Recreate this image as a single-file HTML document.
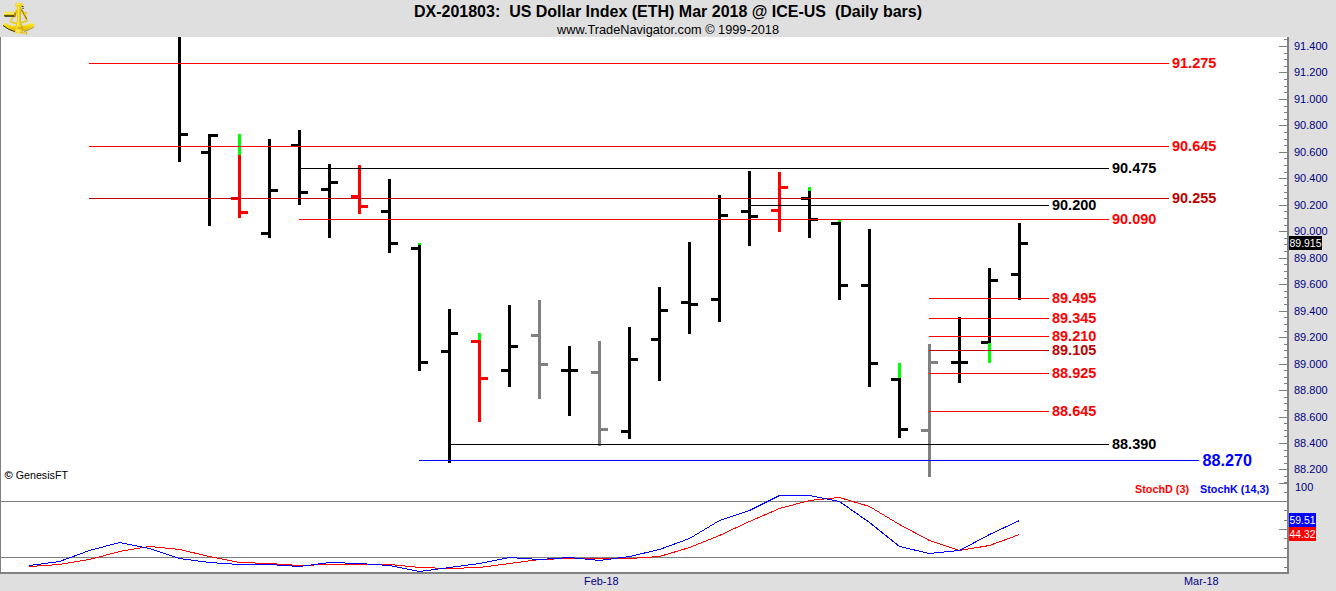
<!DOCTYPE html>
<html><head><meta charset="utf-8"><style>
html,body{margin:0;padding:0;background:#dfdfdf;}
body{width:1336px;height:591px;overflow:hidden;position:relative;}
svg{position:absolute;left:0;top:0;}
text{font-family:"Liberation Sans",Arial,sans-serif;}
</style></head><body>
<svg width="1336" height="591" viewBox="0 0 1336 591">
<g shape-rendering="crispEdges">
<rect x="0" y="0" width="1336" height="591" fill="#dfdfdf"/>
<rect x="1" y="37" width="1286" height="535" fill="#ffffff"/>
<rect x="0" y="37" width="1" height="537" fill="#808080"/>
<rect x="0" y="572" width="1289" height="2" fill="#808080"/>
<rect x="1287" y="37" width="2" height="537" fill="#808080"/>
<rect x="1" y="501" width="1286" height="1" fill="#808080"/>
<rect x="1" y="557" width="1286" height="1" fill="#808080"/>
<rect x="1284" y="39" width="3" height="1" fill="#808080"/>
<rect x="1279" y="46" width="8" height="1" fill="#808080"/>
<rect x="1284" y="53" width="3" height="1" fill="#808080"/>
<rect x="1284" y="59" width="3" height="1" fill="#808080"/>
<rect x="1284" y="66" width="3" height="1" fill="#808080"/>
<rect x="1279" y="72" width="8" height="1" fill="#808080"/>
<rect x="1284" y="79" width="3" height="1" fill="#808080"/>
<rect x="1284" y="86" width="3" height="1" fill="#808080"/>
<rect x="1284" y="92" width="3" height="1" fill="#808080"/>
<rect x="1279" y="99" width="8" height="1" fill="#808080"/>
<rect x="1284" y="106" width="3" height="1" fill="#808080"/>
<rect x="1284" y="112" width="3" height="1" fill="#808080"/>
<rect x="1284" y="119" width="3" height="1" fill="#808080"/>
<rect x="1279" y="125" width="8" height="1" fill="#808080"/>
<rect x="1284" y="132" width="3" height="1" fill="#808080"/>
<rect x="1284" y="139" width="3" height="1" fill="#808080"/>
<rect x="1284" y="145" width="3" height="1" fill="#808080"/>
<rect x="1279" y="152" width="8" height="1" fill="#808080"/>
<rect x="1284" y="158" width="3" height="1" fill="#808080"/>
<rect x="1284" y="165" width="3" height="1" fill="#808080"/>
<rect x="1284" y="172" width="3" height="1" fill="#808080"/>
<rect x="1279" y="178" width="8" height="1" fill="#808080"/>
<rect x="1284" y="185" width="3" height="1" fill="#808080"/>
<rect x="1284" y="192" width="3" height="1" fill="#808080"/>
<rect x="1284" y="198" width="3" height="1" fill="#808080"/>
<rect x="1279" y="205" width="8" height="1" fill="#808080"/>
<rect x="1284" y="211" width="3" height="1" fill="#808080"/>
<rect x="1284" y="218" width="3" height="1" fill="#808080"/>
<rect x="1284" y="225" width="3" height="1" fill="#808080"/>
<rect x="1279" y="231" width="8" height="1" fill="#808080"/>
<rect x="1284" y="238" width="3" height="1" fill="#808080"/>
<rect x="1284" y="244" width="3" height="1" fill="#808080"/>
<rect x="1284" y="251" width="3" height="1" fill="#808080"/>
<rect x="1279" y="258" width="8" height="1" fill="#808080"/>
<rect x="1284" y="264" width="3" height="1" fill="#808080"/>
<rect x="1284" y="271" width="3" height="1" fill="#808080"/>
<rect x="1284" y="278" width="3" height="1" fill="#808080"/>
<rect x="1279" y="284" width="8" height="1" fill="#808080"/>
<rect x="1284" y="291" width="3" height="1" fill="#808080"/>
<rect x="1284" y="297" width="3" height="1" fill="#808080"/>
<rect x="1284" y="304" width="3" height="1" fill="#808080"/>
<rect x="1279" y="311" width="8" height="1" fill="#808080"/>
<rect x="1284" y="317" width="3" height="1" fill="#808080"/>
<rect x="1284" y="324" width="3" height="1" fill="#808080"/>
<rect x="1284" y="331" width="3" height="1" fill="#808080"/>
<rect x="1279" y="337" width="8" height="1" fill="#808080"/>
<rect x="1284" y="344" width="3" height="1" fill="#808080"/>
<rect x="1284" y="350" width="3" height="1" fill="#808080"/>
<rect x="1284" y="357" width="3" height="1" fill="#808080"/>
<rect x="1279" y="364" width="8" height="1" fill="#808080"/>
<rect x="1284" y="370" width="3" height="1" fill="#808080"/>
<rect x="1284" y="377" width="3" height="1" fill="#808080"/>
<rect x="1284" y="383" width="3" height="1" fill="#808080"/>
<rect x="1279" y="390" width="8" height="1" fill="#808080"/>
<rect x="1284" y="397" width="3" height="1" fill="#808080"/>
<rect x="1284" y="403" width="3" height="1" fill="#808080"/>
<rect x="1284" y="410" width="3" height="1" fill="#808080"/>
<rect x="1279" y="417" width="8" height="1" fill="#808080"/>
<rect x="1284" y="423" width="3" height="1" fill="#808080"/>
<rect x="1284" y="430" width="3" height="1" fill="#808080"/>
<rect x="1284" y="436" width="3" height="1" fill="#808080"/>
<rect x="1279" y="443" width="8" height="1" fill="#808080"/>
<rect x="1284" y="450" width="3" height="1" fill="#808080"/>
<rect x="1284" y="456" width="3" height="1" fill="#808080"/>
<rect x="1284" y="463" width="3" height="1" fill="#808080"/>
<rect x="1279" y="469" width="8" height="1" fill="#808080"/>
<rect x="1284" y="476" width="3" height="1" fill="#808080"/>
<rect x="1284" y="482" width="3" height="1" fill="#808080"/>
<rect x="1279" y="483" width="8" height="1" fill="#808080"/>
<rect x="1284" y="492" width="3" height="1" fill="#808080"/>
<rect x="1284" y="510" width="3" height="1" fill="#808080"/>
<rect x="1284" y="520" width="3" height="1" fill="#808080"/>
<rect x="1279" y="529" width="8" height="1" fill="#808080"/>
<rect x="1284" y="538" width="3" height="1" fill="#808080"/>
<rect x="1284" y="548" width="3" height="1" fill="#808080"/>
<rect x="1284" y="567" width="3" height="1" fill="#808080"/>
<rect x="178" y="37" width="3" height="125" fill="#000000"/>
<rect x="181" y="133" width="7" height="3" fill="#000000"/>
<rect x="208" y="134" width="3" height="92" fill="#000000"/>
<rect x="201" y="151" width="7" height="3" fill="#000000"/>
<rect x="211" y="134" width="7" height="3" fill="#000000"/>
<rect x="238" y="134" width="3" height="84" fill="#ff0000"/>
<rect x="238" y="134" width="3" height="21" fill="#00ff00"/>
<rect x="231" y="197" width="7" height="3" fill="#ff0000"/>
<rect x="241" y="211" width="7" height="3" fill="#ff0000"/>
<rect x="268" y="139" width="3" height="99" fill="#000000"/>
<rect x="261" y="232" width="7" height="3" fill="#000000"/>
<rect x="271" y="189" width="7" height="3" fill="#000000"/>
<rect x="298" y="130" width="3" height="75" fill="#000000"/>
<rect x="291" y="144" width="7" height="3" fill="#000000"/>
<rect x="301" y="191" width="7" height="3" fill="#000000"/>
<rect x="328" y="164" width="3" height="74" fill="#000000"/>
<rect x="321" y="188" width="7" height="3" fill="#000000"/>
<rect x="331" y="181" width="7" height="3" fill="#000000"/>
<rect x="358" y="165" width="3" height="49" fill="#ff0000"/>
<rect x="351" y="195" width="7" height="3" fill="#ff0000"/>
<rect x="361" y="205" width="7" height="3" fill="#ff0000"/>
<rect x="388" y="179" width="3" height="74" fill="#000000"/>
<rect x="381" y="210" width="7" height="3" fill="#000000"/>
<rect x="391" y="242" width="7" height="3" fill="#000000"/>
<rect x="418" y="243" width="3" height="128" fill="#000000"/>
<rect x="418" y="243" width="3" height="2" fill="#00ff00"/>
<rect x="411" y="247" width="7" height="3" fill="#000000"/>
<rect x="421" y="361" width="7" height="3" fill="#000000"/>
<rect x="448" y="309" width="3" height="154" fill="#000000"/>
<rect x="441" y="350" width="7" height="3" fill="#000000"/>
<rect x="451" y="332" width="7" height="3" fill="#000000"/>
<rect x="478" y="333" width="3" height="89" fill="#ff0000"/>
<rect x="478" y="333" width="3" height="7" fill="#00ff00"/>
<rect x="471" y="340" width="7" height="3" fill="#ff0000"/>
<rect x="481" y="377" width="7" height="3" fill="#ff0000"/>
<rect x="508" y="305" width="3" height="82" fill="#000000"/>
<rect x="501" y="369" width="7" height="3" fill="#000000"/>
<rect x="511" y="345" width="7" height="3" fill="#000000"/>
<rect x="538" y="300" width="3" height="99" fill="#808080"/>
<rect x="531" y="334" width="7" height="3" fill="#808080"/>
<rect x="541" y="363" width="7" height="3" fill="#808080"/>
<rect x="568" y="346" width="3" height="70" fill="#000000"/>
<rect x="561" y="369" width="7" height="3" fill="#000000"/>
<rect x="571" y="369" width="7" height="3" fill="#000000"/>
<rect x="598" y="341" width="3" height="105" fill="#808080"/>
<rect x="591" y="371" width="7" height="3" fill="#808080"/>
<rect x="601" y="428" width="7" height="3" fill="#808080"/>
<rect x="628" y="327" width="3" height="112" fill="#000000"/>
<rect x="621" y="430" width="7" height="3" fill="#000000"/>
<rect x="631" y="358" width="7" height="3" fill="#000000"/>
<rect x="658" y="287" width="3" height="94" fill="#000000"/>
<rect x="651" y="338" width="7" height="3" fill="#000000"/>
<rect x="661" y="309" width="7" height="3" fill="#000000"/>
<rect x="688" y="242" width="3" height="92" fill="#000000"/>
<rect x="681" y="301" width="7" height="3" fill="#000000"/>
<rect x="691" y="303" width="7" height="3" fill="#000000"/>
<rect x="718" y="195" width="3" height="127" fill="#000000"/>
<rect x="711" y="298" width="7" height="3" fill="#000000"/>
<rect x="721" y="214" width="7" height="3" fill="#000000"/>
<rect x="748" y="171" width="3" height="75" fill="#000000"/>
<rect x="741" y="210" width="7" height="3" fill="#000000"/>
<rect x="751" y="215" width="7" height="3" fill="#000000"/>
<rect x="778" y="172" width="3" height="60" fill="#ff0000"/>
<rect x="771" y="209" width="7" height="3" fill="#ff0000"/>
<rect x="781" y="186" width="7" height="3" fill="#ff0000"/>
<rect x="808" y="187" width="3" height="51" fill="#000000"/>
<rect x="808" y="187" width="3" height="4" fill="#00ff00"/>
<rect x="801" y="197" width="7" height="3" fill="#000000"/>
<rect x="811" y="218" width="7" height="3" fill="#000000"/>
<rect x="838" y="220" width="3" height="80" fill="#000000"/>
<rect x="838" y="220" width="3" height="2" fill="#00ff00"/>
<rect x="831" y="222" width="7" height="3" fill="#000000"/>
<rect x="841" y="284" width="7" height="3" fill="#000000"/>
<rect x="868" y="229" width="3" height="158" fill="#000000"/>
<rect x="861" y="284" width="7" height="3" fill="#000000"/>
<rect x="871" y="362" width="7" height="3" fill="#000000"/>
<rect x="898" y="363" width="3" height="75" fill="#000000"/>
<rect x="898" y="363" width="3" height="15" fill="#00ff00"/>
<rect x="891" y="378" width="7" height="3" fill="#000000"/>
<rect x="901" y="428" width="7" height="3" fill="#000000"/>
<rect x="928" y="344" width="3" height="133" fill="#808080"/>
<rect x="921" y="429" width="7" height="3" fill="#808080"/>
<rect x="931" y="361" width="7" height="3" fill="#808080"/>
<rect x="958" y="317" width="3" height="66" fill="#000000"/>
<rect x="951" y="361" width="7" height="3" fill="#000000"/>
<rect x="961" y="361" width="7" height="3" fill="#000000"/>
<rect x="988" y="268" width="3" height="95" fill="#000000"/>
<rect x="988" y="343" width="3" height="20" fill="#00ff00"/>
<rect x="981" y="341" width="7" height="3" fill="#000000"/>
<rect x="991" y="279" width="7" height="3" fill="#000000"/>
<rect x="1018" y="223" width="3" height="77" fill="#000000"/>
<rect x="1011" y="273" width="7" height="3" fill="#000000"/>
<rect x="1021" y="242" width="7" height="3" fill="#000000"/>
<rect x="89" y="63" width="1080" height="1" fill="#ff0000"/>
<rect x="89" y="146" width="1080" height="1" fill="#ff0000"/>
<rect x="299" y="168" width="810" height="1" fill="#000000"/>
<rect x="89" y="198" width="1080" height="1" fill="#c00000"/>
<rect x="749" y="205" width="300" height="1" fill="#000000"/>
<rect x="299" y="219" width="810" height="1" fill="#ff0000"/>
<rect x="929" y="298" width="120" height="1" fill="#ff0000"/>
<rect x="929" y="318" width="120" height="1" fill="#ff0000"/>
<rect x="929" y="336" width="120" height="1" fill="#ff0000"/>
<rect x="929" y="350" width="120" height="1" fill="#c00000"/>
<rect x="929" y="373" width="120" height="1" fill="#ff0000"/>
<rect x="929" y="411" width="120" height="1" fill="#ff0000"/>
<rect x="449" y="444" width="660" height="1" fill="#000000"/>
<rect x="419" y="460" width="780" height="1" fill="#0000ff"/>
<polyline points="29.5,566.5 59.5,564.5 89.5,559.5 119.5,551.5 149.5,546.5 179.5,549.5 209.5,556.5 239.5,562.5 269.5,563.5 299.5,565.5 329.5,564.5 359.5,564.5 389.5,564.5 419.5,567.5 449.5,568.5 479.5,567.5 509.5,563.5 539.5,559.5 569.5,558.5 599.5,558.5 629.5,558.5 659.5,556.5 689.5,547.5 719.5,535.5 749.5,521.5 779.5,508.5 809.5,500.5 839.5,497.5 869.5,506.5 899.5,524.5 929.5,540.5 959.5,550.5 989.5,545.5 1019.5,534.5" fill="none" stroke="#ff0000" stroke-width="1"/>
<polyline points="29.5,565.5 59.5,561.5 89.5,550.5 119.5,542.5 149.5,548.5 179.5,558.5 209.5,562.5 239.5,564.5 269.5,564.5 299.5,566.5 329.5,562.5 359.5,563.5 389.5,565.5 419.5,571.5 449.5,567.5 479.5,563.5 509.5,557.5 539.5,559.5 569.5,557.5 599.5,560.5 629.5,556.5 659.5,549.5 689.5,538.5 719.5,520.5 749.5,510.5 779.5,495.5 809.5,495.5 839.5,501.5 869.5,522.5 899.5,546.5 929.5,553.5 959.5,550.5 989.5,534.5 1019.5,520.5" fill="none" stroke="#0000ff" stroke-width="1"/>
</g>
<g>
<text x="1172" y="68" font-size="14" fill="#ff0000" font-weight="bold" text-anchor="start" textLength="44.3" lengthAdjust="spacingAndGlyphs">91.275</text>
<text x="1172" y="151" font-size="14" fill="#ff0000" font-weight="bold" text-anchor="start" textLength="44.3" lengthAdjust="spacingAndGlyphs">90.645</text>
<text x="1112" y="173" font-size="14" fill="#000000" font-weight="bold" text-anchor="start" textLength="44.3" lengthAdjust="spacingAndGlyphs">90.475</text>
<text x="1172" y="203" font-size="14" fill="#c00000" font-weight="bold" text-anchor="start" textLength="44.3" lengthAdjust="spacingAndGlyphs">90.255</text>
<text x="1052" y="210" font-size="14" fill="#000000" font-weight="bold" text-anchor="start" textLength="44.3" lengthAdjust="spacingAndGlyphs">90.200</text>
<text x="1112" y="224" font-size="14" fill="#ff0000" font-weight="bold" text-anchor="start" textLength="44.3" lengthAdjust="spacingAndGlyphs">90.090</text>
<text x="1052" y="303" font-size="14" fill="#ff0000" font-weight="bold" text-anchor="start" textLength="44.3" lengthAdjust="spacingAndGlyphs">89.495</text>
<text x="1052" y="323" font-size="14" fill="#ff0000" font-weight="bold" text-anchor="start" textLength="44.3" lengthAdjust="spacingAndGlyphs">89.345</text>
<text x="1052" y="341" font-size="14" fill="#ff0000" font-weight="bold" text-anchor="start" textLength="44.3" lengthAdjust="spacingAndGlyphs">89.210</text>
<text x="1052" y="355" font-size="14" fill="#c00000" font-weight="bold" text-anchor="start" textLength="44.3" lengthAdjust="spacingAndGlyphs">89.105</text>
<text x="1052" y="378" font-size="14" fill="#ff0000" font-weight="bold" text-anchor="start" textLength="44.3" lengthAdjust="spacingAndGlyphs">88.925</text>
<text x="1052" y="416" font-size="14" fill="#ff0000" font-weight="bold" text-anchor="start" textLength="44.3" lengthAdjust="spacingAndGlyphs">88.645</text>
<text x="1112" y="449" font-size="14" fill="#000000" font-weight="bold" text-anchor="start" textLength="44.3" lengthAdjust="spacingAndGlyphs">88.390</text>
<text x="1202.5" y="466" font-size="16" fill="#0000ff" font-weight="bold" text-anchor="start" textLength="49.5" lengthAdjust="spacingAndGlyphs">88.270</text>
<text x="1294" y="50" font-size="11" fill="#000080" font-weight="normal" text-anchor="start">91.400</text>
<text x="1294" y="76" font-size="11" fill="#000080" font-weight="normal" text-anchor="start">91.200</text>
<text x="1294" y="103" font-size="11" fill="#000080" font-weight="normal" text-anchor="start">91.000</text>
<text x="1294" y="129" font-size="11" fill="#000080" font-weight="normal" text-anchor="start">90.800</text>
<text x="1294" y="156" font-size="11" fill="#000080" font-weight="normal" text-anchor="start">90.600</text>
<text x="1294" y="182" font-size="11" fill="#000080" font-weight="normal" text-anchor="start">90.400</text>
<text x="1294" y="209" font-size="11" fill="#000080" font-weight="normal" text-anchor="start">90.200</text>
<text x="1294" y="235" font-size="11" fill="#000080" font-weight="normal" text-anchor="start">90.000</text>
<text x="1294" y="262" font-size="11" fill="#000080" font-weight="normal" text-anchor="start">89.800</text>
<text x="1294" y="288" font-size="11" fill="#000080" font-weight="normal" text-anchor="start">89.600</text>
<text x="1294" y="315" font-size="11" fill="#000080" font-weight="normal" text-anchor="start">89.400</text>
<text x="1294" y="341" font-size="11" fill="#000080" font-weight="normal" text-anchor="start">89.200</text>
<text x="1294" y="368" font-size="11" fill="#000080" font-weight="normal" text-anchor="start">89.000</text>
<text x="1294" y="394" font-size="11" fill="#000080" font-weight="normal" text-anchor="start">88.800</text>
<text x="1294" y="421" font-size="11" fill="#000080" font-weight="normal" text-anchor="start">88.600</text>
<text x="1294" y="447" font-size="11" fill="#000080" font-weight="normal" text-anchor="start">88.400</text>
<text x="1294" y="473" font-size="11" fill="#000080" font-weight="normal" text-anchor="start">88.200</text>
<text x="1295" y="491" font-size="11" fill="#000080" font-weight="normal" text-anchor="start">100</text>
<rect x="1289" y="236" width="33" height="14" fill="#000000"/>
<text x="1289.5" y="247" font-size="11" fill="#ffffff" textLength="32" lengthAdjust="spacingAndGlyphs">89.915</text>
<rect x="1289" y="513" width="27" height="14" fill="#0000ff"/>
<text x="1289.5" y="524" font-size="11" fill="#ffffff" textLength="26" lengthAdjust="spacingAndGlyphs">59.51</text>
<rect x="1289" y="527" width="27" height="14" fill="#ff0000"/>
<text x="1289.5" y="538" font-size="11" fill="#ffffff" textLength="26" lengthAdjust="spacingAndGlyphs">44.32</text>
<text xml:space="preserve" x="668" y="17" font-size="16" font-weight="bold" fill="#000000" text-anchor="middle" textLength="508" lengthAdjust="spacingAndGlyphs">DX-201803:  US Dollar Index (ETH) Mar 2018 @ ICE-US  (Daily bars)</text>
<text x="668" y="34" font-size="13" fill="#000000" text-anchor="middle" textLength="222" lengthAdjust="spacingAndGlyphs">www.TradeNavigator.com © 1999-2018</text>
<text x="4.5" y="479" font-size="11" fill="#000000" textLength="63.5" lengthAdjust="spacingAndGlyphs"><tspan font-size="11.5" font-weight="bold">©</tspan> GenesisFT</text>
<text x="1135" y="493" font-size="11" font-weight="bold" fill="#ff0000" textLength="54" lengthAdjust="spacingAndGlyphs">StochD (3)</text>
<text x="1200" y="493" font-size="11" font-weight="bold" fill="#0000ff" textLength="69" lengthAdjust="spacingAndGlyphs">StochK (14,3)</text>
<text x="584" y="585" font-size="11" fill="#000080" textLength="34.5" lengthAdjust="spacingAndGlyphs">Feb-18</text>
<text x="1184" y="585" font-size="11" fill="#000080" textLength="34.5" lengthAdjust="spacingAndGlyphs">Mar-18</text>
</g>
<defs>
<linearGradient id="ga" x1="0" y1="0" x2="0" y2="1">
<stop offset="0" stop-color="#fff27a"/><stop offset="0.35" stop-color="#f8dc10"/><stop offset="1" stop-color="#d4aa00"/>
</linearGradient>
<linearGradient id="gp" x1="0" y1="0" x2="1" y2="0">
<stop offset="0" stop-color="#e8c200"/><stop offset="0.4" stop-color="#ffe940"/><stop offset="1" stop-color="#d0a600"/>
</linearGradient>
<linearGradient id="gt" x1="0" y1="0" x2="0" y2="1">
<stop offset="0" stop-color="#f5d600"/><stop offset="0.3" stop-color="#fff590"/><stop offset="0.6" stop-color="#e8c400"/><stop offset="0.75" stop-color="#6a5000"/><stop offset="1" stop-color="#1e1600"/>
</linearGradient>
</defs>
<g>
<path d="M10,21.5 Q18.5,25.5 27.5,20.5" fill="none" stroke="#ecca10" stroke-width="1.6"/>
<path d="M17.5,12 L10.2,21" stroke="#f0d020" stroke-width="1.5"/>
<path d="M21,9 L27,20" stroke="#e0bc00" stroke-width="1.8"/>
<path d="M21.5,9.6 L26.8,19" stroke="#3a2c00" stroke-width="0.5"/>
<path d="M23.8,12 L27,12 L27.2,14.5 L24.5,14.5 Z" fill="#f0d020"/>
<path d="M3,25.5 L4.6,22.4 Q18.5,30.5 32,22 L35,25.5 Q18.5,38 3,25.5 Z" fill="url(#ga)"/>
<path d="M3,25.5 Q9,30.5 15,31.6" fill="none" stroke="#2a2000" stroke-width="0.9"/>
<path d="M24,31.5 Q30,30 34,27" fill="none" stroke="#8a6a00" stroke-width="0.6"/>
<rect x="17" y="6" width="3.8" height="19" fill="url(#gp)"/>
<path d="M17,22.5 L20.8,22.5 L23,27 L23,32.5 Q19,34.8 14.8,32.5 L14.8,27 Z" fill="url(#gp)"/>
<path d="M15.5,31 L22.5,31" stroke="#fff5a0" stroke-width="0.8"/>
<path d="M17.2,28 L20.5,28" stroke="#8a6a00" stroke-width="0.6"/>
<ellipse cx="19" cy="4.9" rx="4" ry="2.2" fill="#f4d618"/>
<ellipse cx="18.4" cy="4.3" rx="1.8" ry="0.9" fill="#fff080"/>
<path d="M21.6,6.4 L23.6,6.6" stroke="#2a2000" stroke-width="0.9"/>
<path d="M22.2,8.4 L23.8,8.4" stroke="#2a2000" stroke-width="0.8"/>
<path d="M15.4,9.6 L17,9.6 L17,13.5 L15.6,13" fill="#e8c400"/>
<rect x="4.1" y="11.8" width="11.5" height="4.9" rx="1.3" fill="url(#gt)"/>
<rect x="14" y="12.6" width="2" height="4" fill="#b08c00"/>
<path d="M22.5,33 L26.5,33" stroke="#e8c400" stroke-width="1.2"/>
<path d="M26.6,31.4 L26.6,34.8" stroke="#e0bc00" stroke-width="1"/>
</g>

</svg>
</body></html>
